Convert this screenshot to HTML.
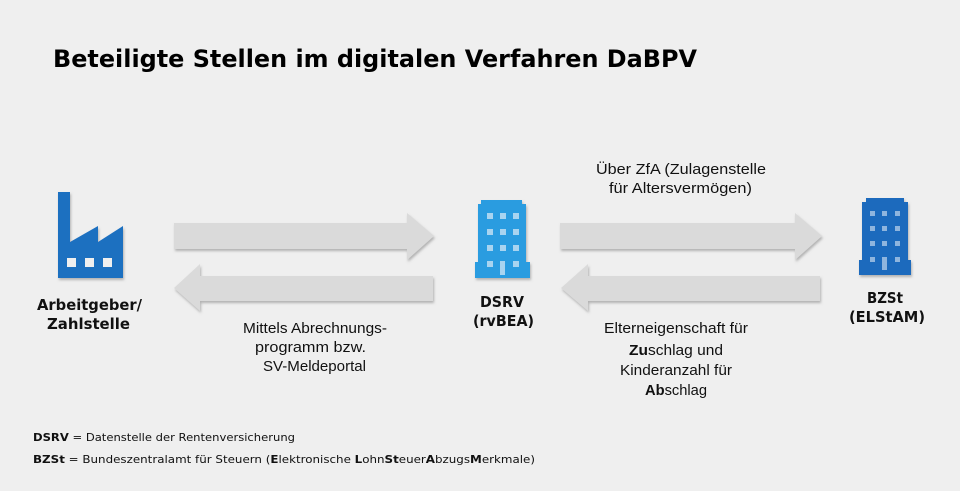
<!DOCTYPE html>
<html><head><meta charset="utf-8"><style>
body{margin:0;background:#efefef;}
svg{display:block;font-family:"Liberation Sans",sans-serif;}
</style></head><body>
<svg width="960" height="491" viewBox="0 0 960 491">
<rect width="960" height="491" fill="#efefef"/>
<defs><filter id="sh" x="-10%" y="-10%" width="130%" height="140%"><feDropShadow dx="1" dy="2" stdDeviation="1.2" flood-color="#888" flood-opacity="0.6"/></filter></defs>
<text x="53" y="67" font-size="24" font-weight="bold" fill="#000" font-family="DejaVu Sans, sans-serif" textLength="644" lengthAdjust="spacingAndGlyphs">Beteiligte Stellen im digitalen Verfahren DaBPV</text>
<g fill="#dadada" filter="url(#sh)">
<polygon points="174,223 407,223 407,213 434,236 407,260 407,249 174,249"/>
<polygon points="433,276 200,276 200,264 174,288 200,311 200,301 433,301"/>
<polygon points="560,223 795,223 795,213 822,236 795,260 795,249 560,249"/>
<polygon points="820,276 588,276 588,264 561,288 588,311 588,301 820,301"/>
</g>
<g filter="url(#sh)">
<polygon fill="#1a6fc0" points="58,192 70,192 70,242 98,226 98,242 123,226 123,278 58,278"/>
<path fill="#2a9ce0" d="M481,200 L522,200 L522,204 L526,204 L526,262 L530,262 L530,278 L475,278 L475,262 L478,262 L478,204 L481,204Z"/>
<path fill="#1a6bbd" d="M866,198 L904,198 L904,202 L908,202 L908,260 L911,260 L911,275 L859,275 L859,260 L862,260 L862,202 L866,202Z"/>
</g>
<g fill="#efefef">
<rect x="67" y="258" width="9" height="9"/><rect x="85" y="258" width="9" height="9"/><rect x="103" y="258" width="9" height="9"/>
</g>
<g fill="#a9d4f0">
<rect x="487" y="213" width="6" height="6"/><rect x="500" y="213" width="6" height="6"/><rect x="513" y="213" width="6" height="6"/>
<rect x="487" y="229" width="6" height="6"/><rect x="500" y="229" width="6" height="6"/><rect x="513" y="229" width="6" height="6"/>
<rect x="487" y="245" width="6" height="6"/><rect x="500" y="245" width="6" height="6"/><rect x="513" y="245" width="6" height="6"/>
<rect x="487" y="261" width="6" height="6"/><rect x="500" y="261" width="5" height="14"/><rect x="513" y="261" width="6" height="6"/>
</g>
<g fill="#8fb5de">
<rect x="870" y="211" width="5" height="5"/><rect x="882" y="211" width="5" height="5"/><rect x="895" y="211" width="5" height="5"/>
<rect x="870" y="226" width="5" height="5"/><rect x="882" y="226" width="5" height="5"/><rect x="895" y="226" width="5" height="5"/>
<rect x="870" y="241" width="5" height="5"/><rect x="882" y="241" width="5" height="5"/><rect x="895" y="241" width="5" height="5"/>
<rect x="870" y="257" width="5" height="5"/><rect x="882" y="257" width="5" height="13"/><rect x="895" y="257" width="5" height="5"/>
</g>
<g font-size="15" font-weight="bold" fill="#111" font-family="DejaVu Sans, sans-serif">
<text x="37" y="310" textLength="105" lengthAdjust="spacingAndGlyphs">Arbeitgeber/</text>
<text x="47" y="329" textLength="83" lengthAdjust="spacingAndGlyphs">Zahlstelle</text>
<text x="480" y="307" textLength="44" lengthAdjust="spacingAndGlyphs">DSRV</text>
<text x="473" y="326" textLength="61" lengthAdjust="spacingAndGlyphs">(rvBEA)</text>
<text x="867" y="303" textLength="36" lengthAdjust="spacingAndGlyphs">BZSt</text>
<text x="849" y="322" textLength="76" lengthAdjust="spacingAndGlyphs">(ELStAM)</text>
</g>
<g font-size="15" fill="#111">
<text x="243" y="333" textLength="144" lengthAdjust="spacingAndGlyphs">Mittels Abrechnungs-</text>
<text x="255" y="352" textLength="111" lengthAdjust="spacingAndGlyphs">programm bzw.</text>
<text x="263" y="371" textLength="103" lengthAdjust="spacingAndGlyphs">SV-Meldeportal</text>
<text x="596" y="174" textLength="170" lengthAdjust="spacingAndGlyphs">Über ZfA (Zulagenstelle</text>
<text x="609" y="193" textLength="143" lengthAdjust="spacingAndGlyphs">für Altersvermögen)</text>
<text x="604" y="333" textLength="144" lengthAdjust="spacingAndGlyphs">Elterneigenschaft für</text>
<text x="629" y="355" textLength="94" lengthAdjust="spacingAndGlyphs"><tspan font-weight="bold">Zu</tspan>schlag und</text>
<text x="620" y="375" textLength="112" lengthAdjust="spacingAndGlyphs">Kinderanzahl für</text>
<text x="645" y="395" textLength="62" lengthAdjust="spacingAndGlyphs"><tspan font-weight="bold">Ab</tspan>schlag</text>
</g>
<g font-size="11" fill="#111" font-family="DejaVu Sans, sans-serif">
<text x="33" y="441" textLength="262" lengthAdjust="spacingAndGlyphs"><tspan font-weight="bold">DSRV</tspan>  = Datenstelle  der Rentenversicherung</text>
<text x="33" y="463" textLength="502" lengthAdjust="spacingAndGlyphs"><tspan font-weight="bold">BZSt</tspan>  = Bundeszentralamt  für Steuern  (<tspan font-weight="bold">E</tspan>lektronische  <tspan font-weight="bold">L</tspan>ohn<tspan font-weight="bold">St</tspan>euer<tspan font-weight="bold">A</tspan>bzugs<tspan font-weight="bold">M</tspan>erkmale)</text>
</g>
</svg>
</body></html>
